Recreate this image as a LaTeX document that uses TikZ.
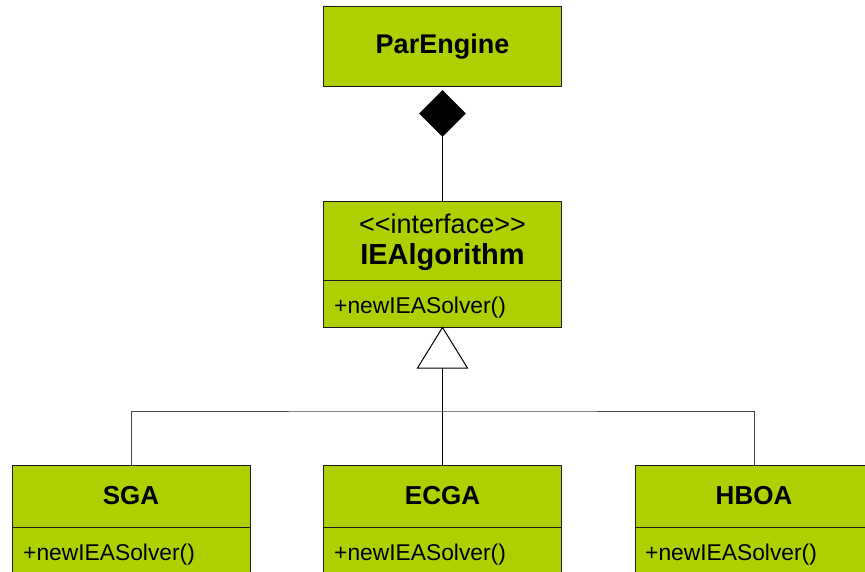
\documentclass[tikz,border=0pt]{standalone}
\usepackage{fontspec}
\setmainfont{Liberation Sans}
\usetikzlibrary{shapes.geometric}
\definecolor{umlgreen}{RGB}{176,207,0}
\definecolor{edge}{RGB}{30,30,30}
\definecolor{busgray}{RGB}{70,70,70}
\begin{document}
\begin{tikzpicture}[x=1pt,y=-1pt,
  box/.style={draw=edge, fill=umlgreen, line width=1pt, inner sep=0pt, minimum width=238pt},
  divider/.style={draw=edge, line width=1pt},
  title/.style={anchor=base, inner sep=0pt, font=\fontsize{26}{30}\selectfont\bfseries},
  bigtitle/.style={anchor=base, inner sep=0pt, font=\fontsize{29}{33}\selectfont\bfseries},
  stereo/.style={anchor=base, inner sep=0pt, font=\fontsize{27}{31}\selectfont},
  method/.style={anchor=base west, inner sep=0pt, font=\fontsize{22.8}{26}\selectfont},
  conn/.style={draw=black, line width=1pt},
  busline/.style={draw=busgray, line width=1pt}
]
\useasboundingbox (0,0) rectangle (865,571);
\clip (0,0) rectangle (865,571);

% boxes
\node[box, minimum height=80pt] (pe) at (442.5,46) {};
\node[box, minimum height=126pt] (ia) at (442.5,264) {};
\node[box, minimum height=116pt] (sga) at (131,523) {};
\node[box, minimum height=116pt] (ecga) at (442.5,523) {};
\node[box, minimum height=116pt] (hboa) at (754,523) {};

% dividers
\draw[divider] (ia.west |- 0,280) -- (ia.east |- 0,280);
\draw[divider] (sga.west |- 0,527) -- (sga.east |- 0,527);
\draw[divider] (ecga.west |- 0,527) -- (ecga.east |- 0,527);
\draw[divider] (hboa.west |- 0,527) -- (hboa.east |- 0,527);

% texts
\node[title, font=\fontsize{27}{30}\selectfont\bfseries] (pet) at (442.5,53.5) {ParEngine};
\node[stereo] (iast) at (442.5,233.3) {<\kern0pt<interface>\kern0pt>};
\node[bigtitle] (iat) at (442.5,264.5) {IEAlgorithm};
\node[method] (iam) at (334,313.3) {+newIEASolver()};
\node[title] (sgat) at (131,504) {SGA};
\node[title] (ecgat) at (442.5,504) {ECGA};
\node[title] (hboat) at (754,504) {HBOA};
\node[method] (sgam) at (23,560.7) {+newIEASolver()};
\node[method] (ecgam) at (334,560.7) {+newIEASolver()};
\node[method] (hboam) at (645,560.7) {+newIEASolver()};

% composition
\node[diamond, fill=black, minimum width=47pt, minimum height=47pt, inner sep=0pt] (dm) at (442.5,113.5) {};
\draw[conn] (ia.north) -- (dm.south);

% generalization
\coordinate (tb) at (442.5,368);
\coordinate (bus) at (442.5,411);
\draw[conn, fill=white, line join=miter] (ia.south) -- ([xshift=25pt]tb) -- ([xshift=-25pt]tb) -- cycle;
\draw[conn] (tb) -- (ecga.north);
\draw[busline] (sga.north) |- (bus) -| (hboa.north);
\end{tikzpicture}
\end{document}
